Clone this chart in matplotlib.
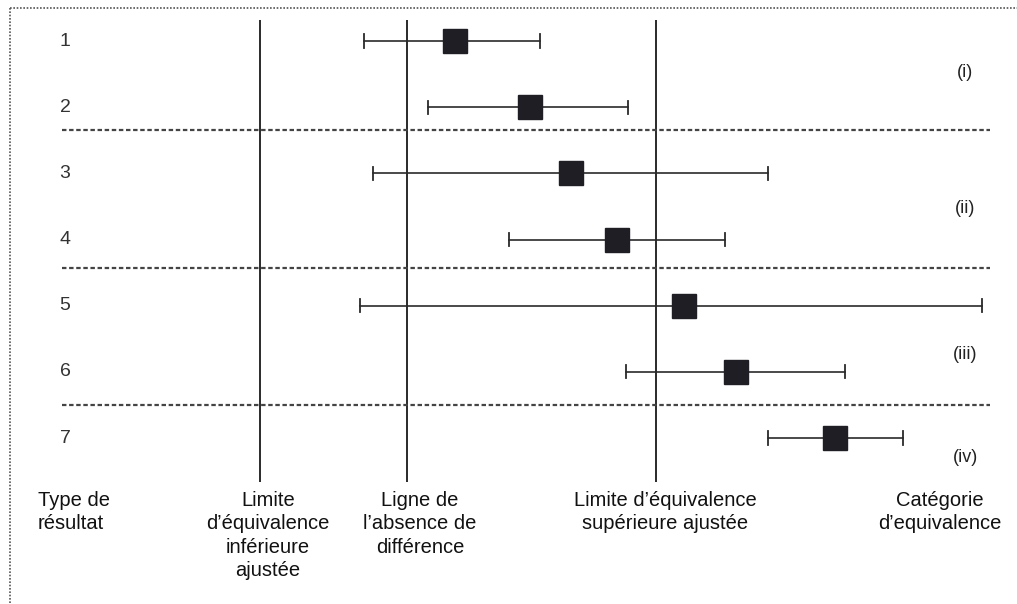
import matplotlib.pyplot as plt

# donnees (echelle arbitraire, 0 = absence de difference)
rows = [1, 2, 3, 4, 5, 6, 7]
row_labels = ["1", "2", "3", "4", "5", "6", "7"]
estimate = [0.48, 1.23, 1.64, 2.10, 2.77, 3.29, 4.28]
ci_low = [-0.43, 0.21, -0.34, 1.02, -0.47, 2.19, 3.61]
ci_high = [1.33, 2.21, 3.61, 3.18, 5.75, 4.38, 4.96]

lower_limit = -1.47
no_diff = 0.0
upper_limit = 2.49

categories = ["(i)", "(ii)", "(iii)", "(iv)"]
cat_rows = [1.48, 3.53, 5.73, 7.29]
separators = [2.35, 4.43, 6.5]

bottom_labels = ["Type de\nrésultat",
                 "Limite\nd\u2019équivalence\ninférieure\najustée",
                 "Ligne de\nl\u2019absence de\ndifférence",
                 "Limite d\u2019équivalence\nsupérieure ajustée",
                 "Catégorie\nd\u2019equivalence"]

plt.rcParams['font.family'] = ['Liberation Sans', 'DejaVu Sans']

fig = plt.figure(figsize=(10.17, 6.04), dpi=100)
ax = fig.add_axes([0, 0, 1, 1])
ax.set_xlim(-4.07, 6.10)
ax.set_ylim(9.508, 0.380)
ax.axis('off')

line_col = '#2a2a2a'

# cadre (haut et gauche seulement, comme le scan)
ax.plot([-3.97, 6.10], [0.50, 0.50], color='#555555', lw=1.2, ls=(0, (1, 1)))
ax.plot([-3.97, -3.97], [0.50, 9.508], color='#555555', lw=1.2, ls=(0, (1, 1)))

# lignes verticales
ax.vlines([lower_limit, no_diff, upper_limit], 0.68, 7.66, color=line_col, lw=1.4)

# separateurs de categories
for s in separators:
    ax.plot([-3.45, 5.83], [s, s], color='#444444', lw=1.6, ls=(0, (2, 1.2)))

# intervalles et estimations
for r, e, lo, hi in zip(rows, estimate, ci_low, ci_high):
    ax.plot([lo, hi], [r, r], color=line_col, lw=1.2)
    ax.plot([lo, lo], [r - 0.1, r + 0.1], color=line_col, lw=1.3)
    ax.plot([hi, hi], [r - 0.1, r + 0.1], color=line_col, lw=1.3)
    ax.plot(e, r, marker='s', ms=17, color='#1e1e24', zorder=3)

# numeros des resultats
for r, lab in zip(rows, row_labels):
    ax.text(-3.42, r, lab, fontsize=14, color='#333333', ha='center', va='center')

# categories d'equivalence
for r, lab in zip(cat_rows, categories):
    ax.text(5.58, r, lab, fontsize=13, color='#222222', ha='center', va='center')

# legendes du bas
kw = dict(fontsize=14.5, color='#111111', va='top', linespacing=1.3)
ax.text(-3.69, 7.8, bottom_labels[0], ha='left', **kw)
ax.text(-1.39, 7.8, bottom_labels[1], ha='center', multialignment='center', **kw)
ax.text(0.13, 7.8, bottom_labels[2], ha='center', multialignment='center', **kw)
ax.text(2.58, 7.8, bottom_labels[3], ha='center', multialignment='center', **kw)
ax.text(5.33, 7.8, bottom_labels[4], ha='center', multialignment='center', **kw)

fig.savefig('out.png', dpi=100)
